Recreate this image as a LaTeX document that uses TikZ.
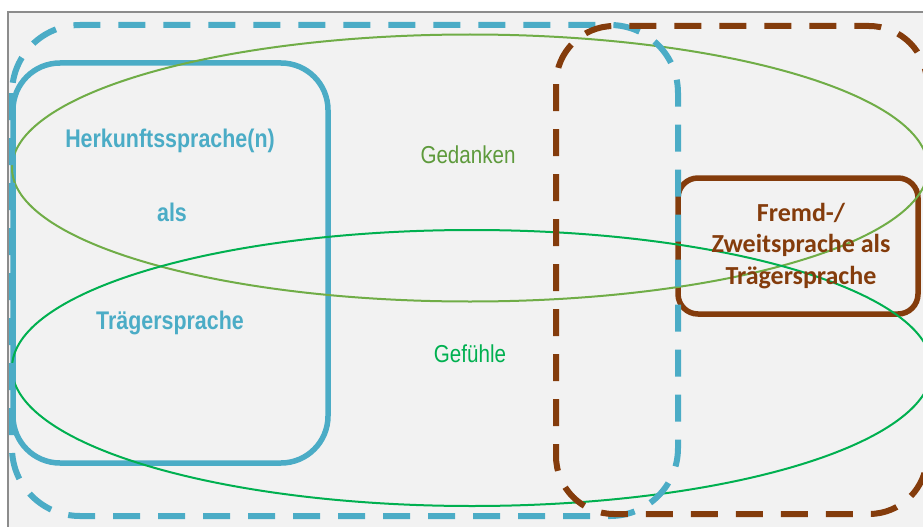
\documentclass[tikz,border=0pt]{standalone}
\usepackage{fontspec}
\usepackage{graphicx}
\setmainfont{Liberation Sans}
\newfontfamily\calfont{Carlito}
\definecolor{paneBg}{HTML}{F2F2F2}
\definecolor{paneFrame}{HTML}{8C8C8C}
\definecolor{langBlue}{HTML}{4BACC6}
\definecolor{langBrown}{HTML}{843C0C}
\definecolor{thoughtGreen}{HTML}{70AD47}
\definecolor{thoughtText}{HTML}{5E9A3C}
\definecolor{feelGreen}{HTML}{00B050}
\tikzset{
  x=1pt, y=-1pt,
  solidbox/.style={line width=5.5pt, rounded corners=#1},
  dashbox/.style={line width=6pt, dash pattern=on 27pt off 18pt, rounded corners=#1},
  ellipseline/.style={line width=2pt},
  narrowtext/.style={font=\fontsize{24.5}{28}\selectfont, inner sep=0pt, anchor=center},
  boldlabel/.style={narrowtext, font=\fontsize{25.5}{28}\selectfont\bfseries, text=langBlue},
  carrier/.style={font=\calfont\bfseries\fontsize{26}{31.5}\selectfont, text=langBrown, align=center, inner sep=0pt}
}
\newcommand{\squeezed}[1]{\scalebox{0.84}[1]{#1}}
\begin{document}
\begin{tikzpicture}
\useasboundingbox (0,0) rectangle (923,527);
\clip (0,0) rectangle (923,527);
% panel background and frame
\fill[white] (0,0) rectangle (923,527);
\fill[paneBg] (8,12) rectangle (923,527);
\draw[paneFrame, line width=1.5pt] (8,527) -- (8,12) -- (923,12);

% solid language boxes
\draw[langBlue, solidbox=47pt] (13,63) rectangle (328,463);
\draw[langBrown, solidbox=20pt] (678,178) rectangle (918,314);

% thoughts and feelings
\draw[thoughtGreen, ellipseline] (470,168) ellipse [x radius=458, y radius=133.5];
\draw[feelGreen, ellipseline] (472,368) ellipse [x radius=460, y radius=138];

% dashed language areas
\draw[langBlue, dashbox=68pt] (12,25) rectangle (678,516);
\draw[langBrown, dashbox=58pt] (556,26) rectangle (927,514);

% labels
\node[boldlabel] (herkunft) at (170,141) {\squeezed{Herkunftssprache(n)}};
\node[boldlabel] (als) at (172,212) {\squeezed{als}};
\node[boldlabel] (traeger) at (170,323) {\squeezed{Trägersprache}};
\node[narrowtext, text=thoughtText] (gedanken) at (468,155) {\squeezed{Gedanken}};
\node[narrowtext, text=feelGreen] (gefuehle) at (470,354) {\squeezed{Gefühle}};
\node[carrier] (fremd) at (801,246) {Fremd-/\\Zweitsprache als\\Trägersprache};
\end{tikzpicture}
\end{document}
